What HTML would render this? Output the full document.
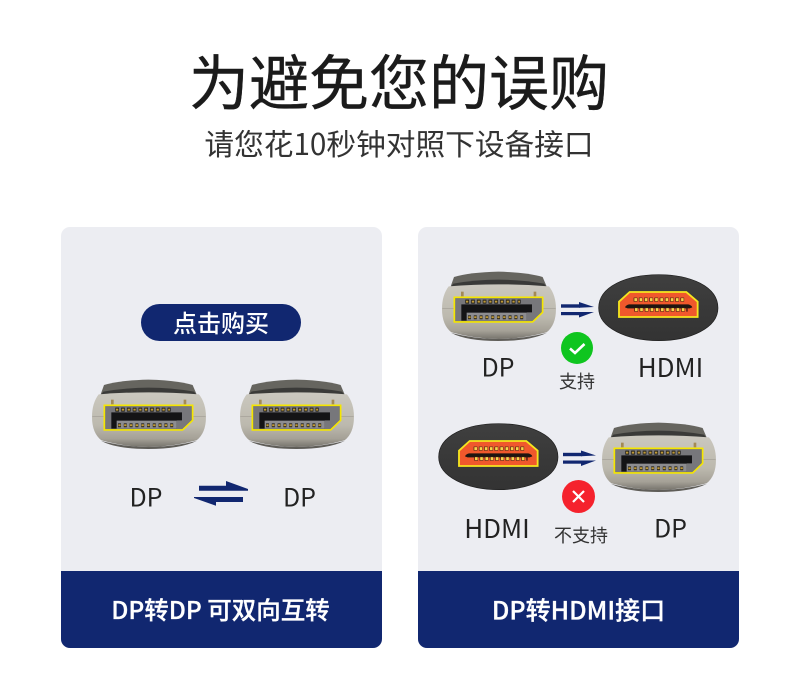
<!DOCTYPE html>
<html><head><meta charset="utf-8">
<style>
html,body{margin:0;padding:0;background:#fff}
#p{position:relative;width:800px;height:700px;overflow:hidden;background:#fff;font-family:"Noto Sans CJK SC","Liberation Sans",sans-serif}
.t{position:absolute;white-space:nowrap;text-align:center;transform:translate(-50%,-50%);line-height:1;color:#222}
.card{position:absolute;top:227px;width:321px;height:421px;background:#ecedf2;border-radius:9px;overflow:hidden}
.foot{position:absolute;left:0;bottom:0;width:100%;height:77px;background:#112770}
svg{position:absolute;overflow:visible}
</style></head><body><div id="p">
<svg width="0" height="0" style="left:0;top:0"><defs>
<linearGradient id="body" x1="0" y1="0" x2="0" y2="1"><stop offset="0" stop-color="#cbc8bf"/><stop offset=".6" stop-color="#bcb9ae"/><stop offset=".85" stop-color="#a5a197"/><stop offset="1" stop-color="#77746d"/></linearGradient>
<linearGradient id="hdb" x1="0" y1="0" x2="0" y2="1"><stop offset="0" stop-color="#3f3f3f"/><stop offset="1" stop-color="#333"/></linearGradient>
<symbol id="dp" viewBox="30 55 355 220" overflow="visible">
<path d="M62 104 L72 76 Q120 62 205 60 Q290 62 338 76 L350 104Z" fill="#66655f"/>
<path d="M70 96 Q205 72 342 96 L350 106 L62 106Z" fill="#3a3a38"/>
<path d="M56 104 Q205 92 357 104 Q378 130 378 172 Q378 220 350 242 Q205 282 64 242 Q36 220 36 172 Q36 130 56 104Z" fill="url(#body)"/>
<path d="M64 244 Q205 280 350 244 Q300 268 205 268 Q110 268 64 244Z" fill="#5f5d58"/>
<path d="M37 171H72M340 171H377" stroke="#a09d94" stroke-width="2"/>
<rect x="93" y="120" width="8" height="14" fill="#a38a55"/><rect x="311" y="120" width="8" height="14" fill="#a38a55"/>
<path d="M73 137H338V182L308 211H73Z" fill="#77777b" stroke="#f5e600" stroke-width="5"/>
<path d="M94 158H306V182H290V207H94Z" fill="#141416"/>
<rect x="110" y="183" width="180" height="24" fill="#8d8d90"/>
<line x1="106" y1="150" x2="272" y2="150" stroke="#1e1c16" stroke-width="12" stroke-dasharray="11 6.4"/>
<line x1="108" y1="150" x2="270" y2="150" stroke="#c09a38" stroke-width="6" stroke-dasharray="7 10.4"/>
<line x1="114" y1="197" x2="280" y2="197" stroke="#1e1c16" stroke-width="12" stroke-dasharray="9 8.4"/>
<line x1="115" y1="197" x2="279" y2="197" stroke="#c09a38" stroke-width="6" stroke-dasharray="7 10.4"/>
</symbol>
<symbol id="hd" viewBox="500 40 370 210" overflow="visible">
<path d="M505 145 C505 80 590 45 685 45 C780 45 863 80 863 145 C863 205 780 243 685 243 C590 243 505 205 505 145Z" fill="url(#hdb)" stroke="#1e1e1e" stroke-width="2"/>
<path d="M566 126 L598 97 H768 L802 126 V172 H566Z" fill="#f0582c" stroke="#f5e61e" stroke-width="5.5"/>
<path d="M584 143 Q586 137 596 134 L774 134 Q784 137 786 143 L778 146 H592Z" fill="#1e1510"/>
<line x1="610" y1="120" x2="762" y2="120" stroke="#3a1c10" stroke-width="12" stroke-dasharray="11 4.6"/>
<line x1="612" y1="120" x2="760" y2="120" stroke="#fbd24a" stroke-width="9" stroke-dasharray="8 7.6"/>
<line x1="612" y1="150" x2="772" y2="150" stroke="#3a1c10" stroke-width="12" stroke-dasharray="11 4.6"/>
<line x1="614" y1="150" x2="770" y2="150" stroke="#fbd24a" stroke-width="9" stroke-dasharray="8 7.6"/>
</symbol>
<symbol id="ar" viewBox="0 0 34 16" overflow="visible">
<rect x="0" y="2.3" width="19" height="3.4" fill="#112770"/><path d="M18 0L33 5L18 5.7Z" fill="#112770"/>
<rect x="0" y="10" width="19" height="3.2" fill="#112770"/><path d="M18 10L33 10L18 15.5Z" fill="#112770"/>
</symbol>
</defs></svg>

<div class="t" style="left:399px;top:80px;font-size:60px;font-weight:400;color:#1b1b1b;-webkit-text-stroke:.4px #1b1b1b">为避免您的误购</div>
<div class="t" style="left:399px;top:142.5px;font-size:29.7px;font-weight:400;color:#333">请您花10秒钟对照下设备接口</div>

<div class="card" style="left:61px"><div class="foot"></div></div>
<div class="card" style="left:418px"><div class="foot"></div></div>

<div style="position:absolute;left:141px;top:304px;width:160px;height:37px;border-radius:18.5px;background:#112770"></div>
<div class="t" style="left:221px;top:322px;font-size:24px;font-weight:500;color:#fff">点击购买</div>

<svg style="left:90px;top:378px" width="118.3" height="73.3"><use href="#dp" width="118.3" height="73.3"/></svg>
<svg style="left:237.5px;top:378px" width="118.3" height="73.3"><use href="#dp" width="118.3" height="73.3"/></svg>
<div class="t" style="left:146px;top:496.5px;font-size:25px">DP</div>
<div class="t" style="left:299.5px;top:496.5px;font-size:25px">DP</div>
<svg style="left:0;top:0" width="800" height="700">
<path d="M199 485.7H226V481L248 489L248 490.7H199Z" fill="#112770"/>
<path d="M194 497H243V502H216V505.7L194 498Z" fill="#112770"/>
</svg>

<svg style="left:440px;top:270px" width="118.3" height="73.3"><use href="#dp" width="118.3" height="73.3"/></svg>
<svg style="left:596.7px;top:273.3px" width="123.3" height="70"><use href="#hd" width="123.3" height="70"/></svg>
<svg style="left:561px;top:302px" width="34" height="16"><use href="#ar" width="34" height="16"/></svg>
<svg style="left:561px;top:332px" width="32" height="32"><circle cx="16" cy="16" r="16" fill="#0fc51f"/><path d="M9 16.5L14 21L23.5 12" fill="none" stroke="#fff" stroke-width="2.6"/></svg>
<div class="t" style="left:498px;top:366.5px;font-size:25px">DP</div>
<div class="t" style="left:670.5px;top:366.5px;font-size:26px">HDMI</div>
<div class="t" style="left:577px;top:380.5px;font-size:18px;color:#333">支持</div>

<svg style="left:436.7px;top:420px" width="123.3" height="74"><use href="#hd" width="123.3" height="74"/></svg>
<svg style="left:600px;top:421px" width="118.3" height="73.3"><use href="#dp" width="118.3" height="73.3"/></svg>
<svg style="left:563px;top:450px" width="34" height="17"><use href="#ar" width="34" height="17"/></svg>
<svg style="left:562px;top:480px" width="33" height="33"><circle cx="16.5" cy="16.5" r="16.5" fill="#f5222d"/><path d="M11 11L22 22M22 11L11 22" stroke="#fff" stroke-width="2.2"/></svg>
<div class="t" style="left:497px;top:527.5px;font-size:26px">HDMI</div>
<div class="t" style="left:670.5px;top:527.5px;font-size:25px">DP</div>
<div class="t" style="left:581px;top:535px;font-size:18px;color:#333">不支持</div>

<div class="t" style="left:220.5px;top:609.5px;font-size:24.5px;font-weight:500;color:#fff;-webkit-text-stroke:.3px #fff">DP转DP 可双向互转</div>
<div class="t" style="left:578.5px;top:609.5px;font-size:25px;font-weight:500;color:#fff;-webkit-text-stroke:.3px #fff">DP转HDMI接口</div>
</div></body></html>
